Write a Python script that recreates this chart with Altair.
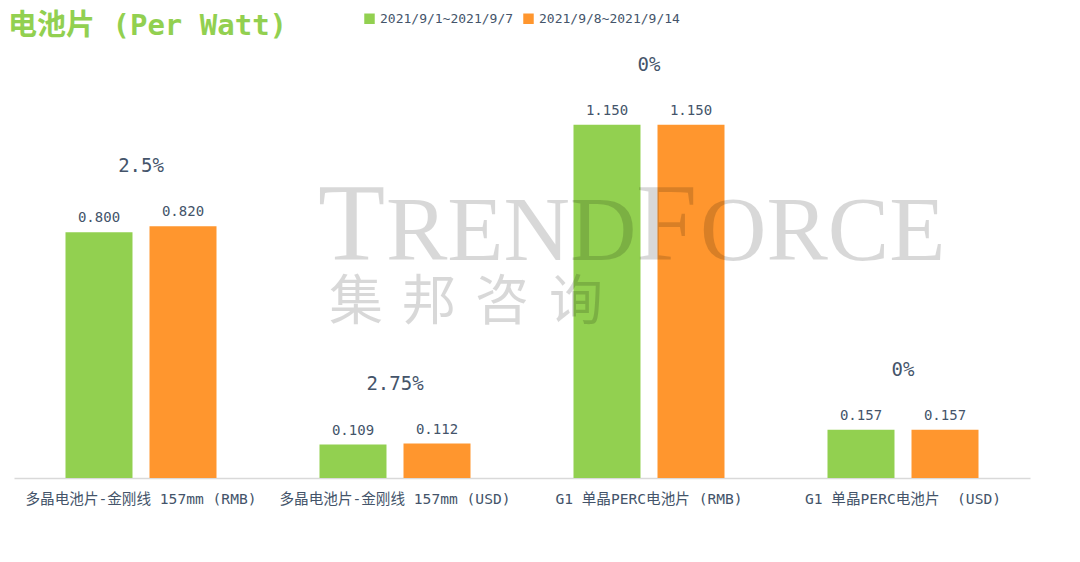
import altair as alt
import pandas as pd

categories = [
    "多晶电池片-金刚线 157mm (RMB)",
    "多晶电池片-金刚线 157mm (USD)",
    "G1 单晶PERC电池片 (RMB)",
    "G1 单晶PERC电池片\u00a0\u00a0(USD)",
]
series = ["2021/9/1~2021/9/7", "2021/9/8~2021/9/14"]
week1 = [0.800, 0.109, 1.150, 0.157]
week2 = [0.820, 0.112, 1.150, 0.157]
changes = ["2.5%", "2.75%", "0%", "0%"]
colors = ["#92D050", "#FF962E"]

TEXT = "#44546A"
MONO = "DejaVu Sans Mono, Noto Sans CJK SC"

rows = []
for c, a, b in zip(categories, week1, week2):
    rows.append({"category": c, "series": series[0], "value": a})
    rows.append({"category": c, "series": series[1], "value": b})
df = pd.DataFrame(rows)

groups = pd.DataFrame({
    "category": categories,
    "change": changes,
    "top": [max(a, b) for a, b in zip(week1, week2)],
})

x_enc = alt.X("category:N", sort=categories,
              scale=alt.Scale(paddingInner=0, paddingOuter=0),
              axis=alt.Axis(title=None, labelAngle=0, ticks=False, grid=False,
                            domainColor="#D9D9D9", domainWidth=1.5,
                            labelFont=MONO, labelFontSize=14.6, labelColor=TEXT,
                            labelPadding=13, labelLimit=400))
xo_enc = alt.XOffset("series:N", sort=series,
                     scale=alt.Scale(paddingInner=0.2024, paddingOuter=0.613))
y_enc = alt.Y("value:Q", scale=alt.Scale(domain=[0, 1.4]), axis=None)

bars = alt.Chart(df).mark_bar().encode(
    x=x_enc, xOffset=xo_enc, y=y_enc,
    color=alt.Color("series:N", sort=series,
                    scale=alt.Scale(domain=series, range=colors),
                    legend=alt.Legend(title=None, orient="none", legendX=349, legendY=-36,
                                      direction="horizontal", symbolType="square",
                                      symbolSize=110, symbolStrokeWidth=0,
                                      labelFont=MONO, labelFontSize=13, labelColor=TEXT,
                                      labelOffset=4, columnPadding=8)),
)

vals = alt.Chart(df).mark_text(font=MONO, fontSize=14, color=TEXT,
                               baseline="alphabetic", dy=-10).encode(
    x=x_enc, xOffset=xo_enc, y=y_enc,
    text=alt.Text("value:Q", format=".3f"),
)

pct = alt.Chart(groups).mark_text(font=MONO, fontSize=19, color=TEXT,
                                  baseline="alphabetic", dy=-54).encode(
    x=x_enc,
    y=alt.Y("top:Q", scale=alt.Scale(domain=[0, 1.4]), axis=None),
    text="change:N",
)

title_df = pd.DataFrame({"t": ["电池片 (Per Watt)"]})
title = alt.Chart(title_df).mark_text(font=MONO, fontSize=29, fontWeight="bold",
                                      color="#92D050", align="left",
                                      baseline="alphabetic").encode(
    x=alt.value(-6), y=alt.value(-13), text="t:N")


def wm(text, x, y, size, font):
    return alt.Chart(pd.DataFrame({"t": [text]})).mark_text(
        font=font, fontSize=size, color="#000000", opacity=0.15, align="left",
        baseline="alphabetic").encode(x=alt.value(x), y=alt.value(y), text="t:N")


SERIF = "Liberation Serif"
CJK = "Noto Sans CJK SC"
watermark = [
    wm("T", 304, 212, 110, SERIF),
    wm("REND", 372, 212, 92, SERIF),
    wm("F", 622, 212, 110, SERIF),
    wm("ORCE", 686, 212, 92, SERIF),
    wm("集", 315, 272, 54, CJK),
    wm("邦", 388, 272, 54, CJK),
    wm("咨", 461, 272, 54, CJK),
    wm("询", 535, 272, 54, CJK),
]

chart = alt.layer(bars, vals, pct, title, *watermark).properties(
    width=1016, height=430,
    autosize=alt.AutoSizeParams(type="none"),
    padding={"left": 6, "top": 40, "right": 20, "bottom": 70},
).configure_view(stroke=None)

chart.save("out.html", embed_options={"renderer": "svg", "actions": False})
